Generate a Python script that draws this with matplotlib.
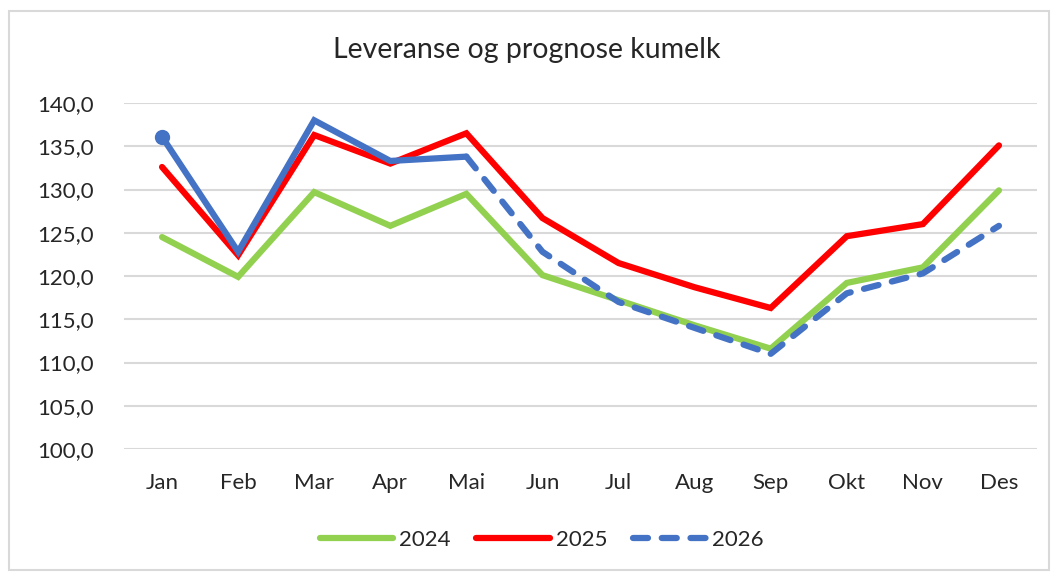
import matplotlib.pyplot as plt
from matplotlib.ticker import FuncFormatter
from matplotlib.patches import Rectangle

maaneder = ["Jan", "Feb", "Mar", "Apr", "Mai", "Jun", "Jul", "Aug", "Sep", "Okt", "Nov", "Des"]
verdi_2024 = [124.5, 119.9, 129.7, 125.8, 129.5, 120.1, 117.2, 114.3, 111.6, 119.2, 121.0, 129.9]
verdi_2025 = [132.6, 122.4, 136.3, 133.0, 136.5, 126.7, 121.5, 118.7, 116.3, 124.6, 126.0, 135.1]
verdi_2026 = [136.1, 122.8, 138.0, 133.3, 133.8, 122.8, 117.0, 114.0, 111.0, 118.0, 120.3, 125.8]
siste_faktiske = 4  # Mai: siste faktiske maaned for 2026, resten er prognose

plt.rcParams["font.family"] = ["Lato", "DejaVu Sans"]

fig = plt.figure(figsize=(10.54, 5.72), dpi=100)
ax = fig.add_axes([124 / 1054, 1 - 449 / 572, (1037 - 124) / 1054, (449 - 103) / 572])

x = list(range(len(maaneder)))
lw = 4.5
strek = (0, (2.4, 2.2))

ax.plot(x, verdi_2024, color="#92d050", linewidth=lw, label="2024",
        solid_capstyle="round", solid_joinstyle="miter", zorder=3)
ax.plot(x, verdi_2025, color="#ff0000", linewidth=lw, label="2025",
        solid_capstyle="round", solid_joinstyle="miter", zorder=3)
# faktisk del (heltrukket)
ax.plot(x[:siste_faktiske + 1], verdi_2026[:siste_faktiske + 1], color="#4472c4",
        linewidth=lw, solid_capstyle="round", solid_joinstyle="miter", zorder=4)
# prognose (stiplet)
ax.plot(x[siste_faktiske:], verdi_2026[siste_faktiske:], color="#4472c4",
        linewidth=lw, linestyle=strek, dash_capstyle="round",
        label="2026", zorder=4)
ax.plot(x[0], verdi_2026[0], marker="o", markersize=10, color="#4472c4", zorder=5)

ax.set_xlim(-0.5, 11.5)
ax.set_ylim(100, 140)
ax.set_yticks([100, 105, 110, 115, 120, 125, 130, 135, 140])
ax.yaxis.set_major_formatter(FuncFormatter(lambda v, p: f"{v:.1f}".replace(".", ",")))
ax.set_xticks(x)
ax.set_xticklabels(maaneder)
ax.tick_params(axis="both", length=0, labelsize=16, colors="#262626")
ax.tick_params(axis="y", pad=22)
ax.tick_params(axis="x", pad=17)

ax.grid(axis="y", color="#d9d9d9", linewidth=1.5)
ax.set_axisbelow(True)
for s in ax.spines.values():
    s.set_visible(False)

fig.text(0.5, 1 - 50 / 572, "Leveranse og prognose kumelk", ha="center", va="center",
         fontsize=20.5, color="#262626")

leg = fig.legend(loc="center", bbox_to_anchor=(0.514, 1 - 540 / 572), ncol=3, frameon=False,
                 fontsize=16, handlelength=3.3, handletextpad=0.27, columnspacing=1.15)
for t in leg.get_texts():
    t.set_color("#262626")

fig.patches.append(Rectangle((9 / 1054, 2 / 572), 1040 / 1054, 559 / 572,
                             transform=fig.transFigure, fill=False,
                             edgecolor="#d9d9d9", linewidth=1.5))

fig.savefig("out.png", dpi=100)
